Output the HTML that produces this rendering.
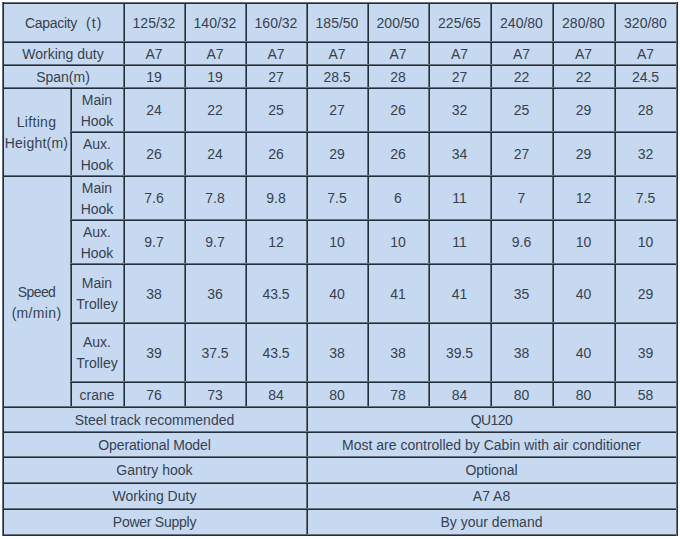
<!DOCTYPE html>
<html><head><meta charset="utf-8"><style>
html,body{margin:0;padding:0;background:#fff;}
body{width:680px;height:539px;position:relative;overflow:hidden;}
#t{position:absolute;left:2px;top:2px;width:676px;height:534px;background:#C6D9F1;}
div{position:absolute;}
p{position:absolute;margin:0;text-align:center;
font-family:"Liberation Sans",sans-serif;font-size:14px;line-height:21px;color:#38414f;white-space:nowrap;}
</style></head><body>
<div id="t"></div>
<div style="left:123px;top:4px;width:2px;height:402px;border-left:1px solid #65707c;box-sizing:border-box;background:#232e3c"></div>
<div style="left:184px;top:4px;width:2px;height:402px;border-left:1px solid #65707c;box-sizing:border-box;background:#232e3c"></div>
<div style="left:245px;top:4px;width:2px;height:402px;border-left:1px solid #65707c;box-sizing:border-box;background:#232e3c"></div>
<div style="left:306px;top:4px;width:2px;height:532px;border-left:1px solid #65707c;box-sizing:border-box;background:#232e3c"></div>
<div style="left:367px;top:4px;width:2px;height:402px;border-left:1px solid #65707c;box-sizing:border-box;background:#232e3c"></div>
<div style="left:428px;top:4px;width:2px;height:402px;border-left:1px solid #65707c;box-sizing:border-box;background:#232e3c"></div>
<div style="left:490px;top:4px;width:2px;height:402px;border-left:1px solid #65707c;box-sizing:border-box;background:#232e3c"></div>
<div style="left:552px;top:4px;width:2px;height:402px;border-left:1px solid #65707c;box-sizing:border-box;background:#232e3c"></div>
<div style="left:614px;top:4px;width:2px;height:402px;border-left:1px solid #65707c;box-sizing:border-box;background:#232e3c"></div>
<div style="left:70px;top:87px;width:2px;height:319px;border-left:1px solid #65707c;box-sizing:border-box;background:#232e3c"></div>
<div style="left:4px;top:41px;width:672px;height:2px;border-top:1px solid #65707c;box-sizing:border-box;background:#232e3c"></div>
<div style="left:4px;top:64px;width:672px;height:2px;border-top:1px solid #65707c;box-sizing:border-box;background:#232e3c"></div>
<div style="left:4px;top:87px;width:672px;height:2px;border-top:1px solid #65707c;box-sizing:border-box;background:#232e3c"></div>
<div style="left:70px;top:131px;width:608px;height:2px;border-top:1px solid #65707c;box-sizing:border-box;background:#232e3c"></div>
<div style="left:4px;top:175px;width:672px;height:2px;border-top:1px solid #65707c;box-sizing:border-box;background:#232e3c"></div>
<div style="left:70px;top:219px;width:608px;height:2px;border-top:1px solid #65707c;box-sizing:border-box;background:#232e3c"></div>
<div style="left:70px;top:263px;width:608px;height:2px;border-top:1px solid #65707c;box-sizing:border-box;background:#232e3c"></div>
<div style="left:70px;top:322px;width:608px;height:2px;border-top:1px solid #65707c;box-sizing:border-box;background:#232e3c"></div>
<div style="left:70px;top:381px;width:608px;height:2px;border-top:1px solid #65707c;box-sizing:border-box;background:#232e3c"></div>
<div style="left:4px;top:406px;width:672px;height:2px;border-top:1px solid #65707c;box-sizing:border-box;background:#232e3c"></div>
<div style="left:4px;top:431px;width:672px;height:2px;border-top:1px solid #65707c;box-sizing:border-box;background:#232e3c"></div>
<div style="left:4px;top:456px;width:672px;height:2px;border-top:1px solid #65707c;box-sizing:border-box;background:#232e3c"></div>
<div style="left:4px;top:482px;width:672px;height:2px;border-top:1px solid #65707c;box-sizing:border-box;background:#232e3c"></div>
<div style="left:4px;top:508px;width:672px;height:2px;border-top:1px solid #65707c;box-sizing:border-box;background:#232e3c"></div>
<div style="left:2px;top:2px;width:676px;height:2px;border-top:1px solid #65707c;box-sizing:border-box;background:#232e3c"></div>
<div style="left:2px;top:534px;width:676px;height:2px;border-top:1px solid #65707c;box-sizing:border-box;background:#232e3c"></div>
<div style="left:2px;top:2px;width:2px;height:534px;border-left:1px solid #65707c;box-sizing:border-box;background:#232e3c"></div>
<div style="left:676px;top:2px;width:2px;height:534px;border-left:1px solid #65707c;box-sizing:border-box;background:#232e3c"></div>
<p style="left:124.5px;top:13px;width:59px;">125/32</p>
<p style="left:185.5px;top:13px;width:59px;">140/32</p>
<p style="left:246.5px;top:13px;width:59px;">160/32</p>
<p style="left:307.5px;top:13px;width:59px;">185/50</p>
<p style="left:368.5px;top:13px;width:59px;">200/50</p>
<p style="left:429.5px;top:13px;width:60px;">225/65</p>
<p style="left:491.5px;top:13px;width:60px;">240/80</p>
<p style="left:553.5px;top:13px;width:60px;">280/80</p>
<p style="left:615.5px;top:13px;width:60px;">320/80</p>
<p style="left:3.5px;top:44px;width:119px;">Working duty</p>
<p style="left:124.5px;top:44px;width:59px;">A7</p>
<p style="left:185.5px;top:44px;width:59px;">A7</p>
<p style="left:246.5px;top:44px;width:59px;">A7</p>
<p style="left:307.5px;top:44px;width:59px;">A7</p>
<p style="left:368.5px;top:44px;width:59px;">A7</p>
<p style="left:429.5px;top:44px;width:60px;">A7</p>
<p style="left:491.5px;top:44px;width:60px;">A7</p>
<p style="left:553.5px;top:44px;width:60px;">A7</p>
<p style="left:615.5px;top:44px;width:60px;">A7</p>
<p style="left:3.5px;top:67px;width:119px;">Span(m)</p>
<p style="left:124.5px;top:67px;width:59px;">19</p>
<p style="left:185.5px;top:67px;width:59px;">19</p>
<p style="left:246.5px;top:67px;width:59px;">27</p>
<p style="left:307.5px;top:67px;width:59px;">28.5</p>
<p style="left:368.5px;top:67px;width:59px;">28</p>
<p style="left:429.5px;top:67px;width:60px;">27</p>
<p style="left:491.5px;top:67px;width:60px;">22</p>
<p style="left:553.5px;top:67px;width:60px;">22</p>
<p style="left:615.5px;top:67px;width:60px;">24.5</p>
<p style="left:71.5px;top:90px;width:51px;">Main<br>Hook</p>
<p style="left:124.5px;top:100px;width:59px;">24</p>
<p style="left:185.5px;top:100px;width:59px;">22</p>
<p style="left:246.5px;top:100px;width:59px;">25</p>
<p style="left:307.5px;top:100px;width:59px;">27</p>
<p style="left:368.5px;top:100px;width:59px;">26</p>
<p style="left:429.5px;top:100px;width:60px;">32</p>
<p style="left:491.5px;top:100px;width:60px;">25</p>
<p style="left:553.5px;top:100px;width:60px;">29</p>
<p style="left:615.5px;top:100px;width:60px;">28</p>
<p style="left:71.5px;top:134px;width:51px;">Aux.<br>Hook</p>
<p style="left:124.5px;top:144px;width:59px;">26</p>
<p style="left:185.5px;top:144px;width:59px;">24</p>
<p style="left:246.5px;top:144px;width:59px;">26</p>
<p style="left:307.5px;top:144px;width:59px;">29</p>
<p style="left:368.5px;top:144px;width:59px;">26</p>
<p style="left:429.5px;top:144px;width:60px;">34</p>
<p style="left:491.5px;top:144px;width:60px;">27</p>
<p style="left:553.5px;top:144px;width:60px;">29</p>
<p style="left:615.5px;top:144px;width:60px;">32</p>
<p style="left:71.5px;top:178px;width:51px;">Main<br>Hook</p>
<p style="left:124.5px;top:188px;width:59px;">7.6</p>
<p style="left:185.5px;top:188px;width:59px;">7.8</p>
<p style="left:246.5px;top:188px;width:59px;">9.8</p>
<p style="left:307.5px;top:188px;width:59px;">7.5</p>
<p style="left:368.5px;top:188px;width:59px;">6</p>
<p style="left:429.5px;top:188px;width:60px;">11</p>
<p style="left:491.5px;top:188px;width:60px;">7</p>
<p style="left:553.5px;top:188px;width:60px;">12</p>
<p style="left:615.5px;top:188px;width:60px;">7.5</p>
<p style="left:71.5px;top:222px;width:51px;">Aux.<br>Hook</p>
<p style="left:124.5px;top:232px;width:59px;">9.7</p>
<p style="left:185.5px;top:232px;width:59px;">9.7</p>
<p style="left:246.5px;top:232px;width:59px;">12</p>
<p style="left:307.5px;top:232px;width:59px;">10</p>
<p style="left:368.5px;top:232px;width:59px;">10</p>
<p style="left:429.5px;top:232px;width:60px;">11</p>
<p style="left:491.5px;top:232px;width:60px;">9.6</p>
<p style="left:553.5px;top:232px;width:60px;">10</p>
<p style="left:615.5px;top:232px;width:60px;">10</p>
<p style="left:71.5px;top:273px;width:51px;">Main<br>Trolley</p>
<p style="left:124.5px;top:284px;width:59px;">38</p>
<p style="left:185.5px;top:284px;width:59px;">36</p>
<p style="left:246.5px;top:284px;width:59px;">43.5</p>
<p style="left:307.5px;top:284px;width:59px;">40</p>
<p style="left:368.5px;top:284px;width:59px;">41</p>
<p style="left:429.5px;top:284px;width:60px;">41</p>
<p style="left:491.5px;top:284px;width:60px;">35</p>
<p style="left:553.5px;top:284px;width:60px;">40</p>
<p style="left:615.5px;top:284px;width:60px;">29</p>
<p style="left:71.5px;top:332px;width:51px;">Aux.<br>Trolley</p>
<p style="left:124.5px;top:343px;width:59px;">39</p>
<p style="left:185.5px;top:343px;width:59px;">37.5</p>
<p style="left:246.5px;top:343px;width:59px;">43.5</p>
<p style="left:307.5px;top:343px;width:59px;">38</p>
<p style="left:368.5px;top:343px;width:59px;">38</p>
<p style="left:429.5px;top:343px;width:60px;">39.5</p>
<p style="left:491.5px;top:343px;width:60px;">38</p>
<p style="left:553.5px;top:343px;width:60px;">40</p>
<p style="left:615.5px;top:343px;width:60px;">39</p>
<p style="left:71.5px;top:385px;width:51px;">crane</p>
<p style="left:124.5px;top:385px;width:59px;">76</p>
<p style="left:185.5px;top:385px;width:59px;">73</p>
<p style="left:246.5px;top:385px;width:59px;">84</p>
<p style="left:307.5px;top:385px;width:59px;">80</p>
<p style="left:368.5px;top:385px;width:59px;">78</p>
<p style="left:429.5px;top:385px;width:60px;">84</p>
<p style="left:491.5px;top:385px;width:60px;">80</p>
<p style="left:553.5px;top:385px;width:60px;">80</p>
<p style="left:615.5px;top:385px;width:60px;">58</p>
<p style="left:3.5px;top:112px;width:66px;"><span style="letter-spacing:0.3px">Lifting</span><br><span style="letter-spacing:0.22px">Height(m)</span></p>
<p style="left:25px;top:13px;text-align:left;letter-spacing:-0.3px">Capacity</p>
<p style="left:86px;top:13px;text-align:left;letter-spacing:1.1px">(t)</p>
<p style="left:3.5px;top:261px;width:66px;"><br><span style="letter-spacing:-0.55px">Speed</span><br><span style="letter-spacing:0.33px">(m/min)</span></p>
<p style="left:3.5px;top:410px;width:302px;">Steel track recommended</p>
<p style="left:307.5px;top:410px;width:368px;"><span style="letter-spacing:-0.6px">QU120</span></p>
<p style="left:3.5px;top:435px;width:302px;"><span style="letter-spacing:-0.12px">Operational Model</span></p>
<p style="left:307.5px;top:435px;width:368px;">Most are controlled by Cabin with air conditioner</p>
<p style="left:3.5px;top:460px;width:302px;">Gantry hook</p>
<p style="left:307.5px;top:460px;width:368px;">Optional</p>
<p style="left:3.5px;top:486px;width:302px;">Working Duty</p>
<p style="left:307.5px;top:486px;width:368px;">A7 A8</p>
<p style="left:3.5px;top:512px;width:302px;"><span style="letter-spacing:-0.25px">Power Supply</span></p>
<p style="left:307.5px;top:512px;width:368px;">By your demand</p>
</body></html>
